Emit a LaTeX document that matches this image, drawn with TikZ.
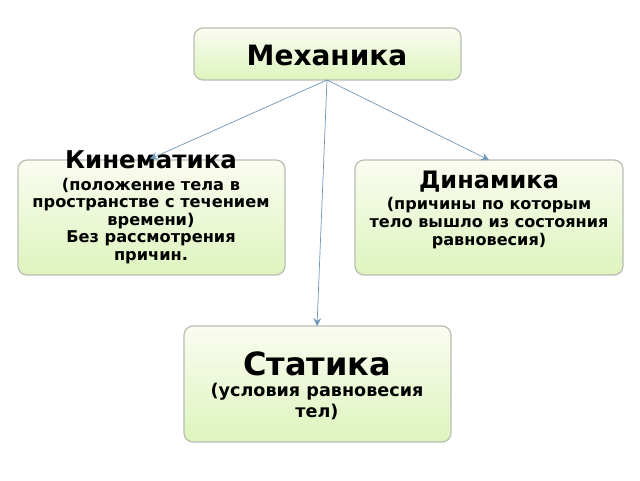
\documentclass[tikz,border=0pt]{standalone}
\usepackage{fontspec}
\setmainfont{DejaVu Sans}
\usetikzlibrary{arrows.meta}
\definecolor{bord}{RGB}{185,190,180}
\definecolor{gtop}{RGB}{250,252,240}
\definecolor{gbot}{RGB}{222,244,190}
\definecolor{arr}{RGB}{110,150,185}
\begin{document}
\begin{tikzpicture}[x=1pt,y=-1pt,
 box/.style={draw=bord,line width=1.2pt,rounded corners=9pt,top color=gtop,bottom color=gbot},
 conn/.style={draw=arr,line width=0.7pt,-{Stealth[length=8pt,width=8pt,inset=3pt]}},
 txt/.style={align=center,font=\bfseries,inner sep=0pt}]
\useasboundingbox[fill=white] (0,0) rectangle (640,480);
\draw[box] (194,28) rectangle (461,80);
\draw[box] (18,160) rectangle (285,275);
\draw[box] (355,160) rectangle (623,275);
\draw[box] (184,326) rectangle (451,442);
\coordinate (top) at (327,80);
\node[txt,font=\bfseries\fontsize{28}{30}\selectfont] (mech) at (327,55) {Механика};
\node[txt,font=\bfseries\fontsize{24.5}{26}\selectfont] (kin) at (151,160) {Кинематика};
\node[txt,font=\bfseries\fontsize{16.2}{17.5}\selectfont,anchor=north] (kins) at (151,178) {(положение тела в\\пространстве с течением\\времени)\\Без рассмотрения\\причин.};
\node[txt,font=\bfseries\fontsize{24}{26}\selectfont] (din) at (489,182) {Динамика};
\node[txt,font=\bfseries\fontsize{16.1}{18}\selectfont,anchor=north] (dins) at (489,197) {(причины по которым\\тело вышло из состояния\\равновесия)};
\node[txt,font=\bfseries\fontsize{32}{34}\selectfont] (stat) at (317,364) {Статика};
\node[txt,font=\bfseries\fontsize{17.6}{21}\selectfont,anchor=north] (stats) at (317,383) {(условия равновесия\\тел)};
\coordinate (k) at (150,159);
\coordinate (d) at (489,160);
\coordinate (s) at (317,326);
\draw[conn] (top) -- (k);
\draw[conn] (top) -- (d);
\draw[conn] (top) -- (s);
\end{tikzpicture}
\end{document}
